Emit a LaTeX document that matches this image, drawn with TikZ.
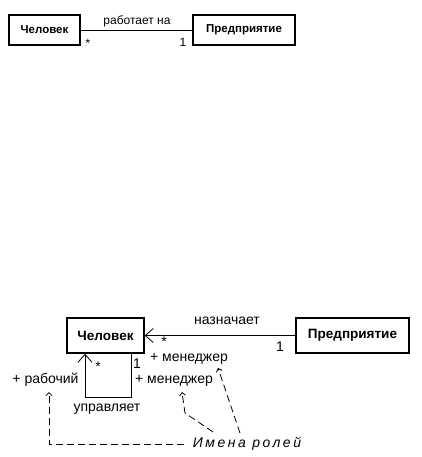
\documentclass[tikz,border=0pt]{standalone}
\usepackage{fontspec}
\setmainfont{Liberation Sans}
\usetikzlibrary{arrows.meta}
\tikzset{
  cls/.style={draw, line width=1.3pt, inner sep=0pt, font=\bfseries\fontsize{13.5}{15}\selectfont},
  clstop/.style={cls, font=\bfseries\fontsize{11.5}{13}\selectfont},
  txt/.style={inner sep=0pt, font=\fontsize{14}{16}\selectfont},
  txttop/.style={inner sep=0pt, font=\fontsize{12}{14}\selectfont},
  assoc/.style={line width=0.8pt},
  openarrow/.style={-{Straight Barb[length=8pt,width=14pt,line width=0.8pt]}},
  note/.style={dashed, dash pattern=on 7pt off 4pt, line width=0.8pt, -{Straight Barb[length=3pt,width=6pt,line width=0.8pt]}}
}
\begin{document}
\begin{tikzpicture}[x=1pt,y=-1pt]
\useasboundingbox (0,0) rectangle (422,457);
% top diagram
\node[clstop, minimum width=71pt, minimum height=30pt] (p1) at (44.5,30) {Человек};
\node[clstop, minimum width=102pt, minimum height=30pt] (e1) at (244,30) {Предприятие};
\draw[assoc] (p1.east) -- (e1.west);
\node[txttop] (l1) at (137,21) {работает на};
\node[txttop] (m1) at (88,43) {*};
\node[txttop] (n1) at (183,42) {1};
% bottom diagram
\node[cls, minimum width=77pt, minimum height=35pt] (p2) at (105.5,335.5) {Человек};
\node[cls, minimum width=113pt, minimum height=35pt] (e2) at (352.5,335.5) {Предприятие};
\draw[assoc, openarrow] (e2.west) -- (p2.east);
\node[txt] (l2) at (227,321) {назначает};
\node[txt] (m2) at (164,342) {*};
\node[txt] (n2) at (280,347) {1};
\node[txt] (r1) at (189,359) {+ менеджер};
% self loop
\coordinate (la) at (85,397);
\coordinate (lb) at (131,397);
\draw[assoc, openarrow] (lb |- p2.south) -- (lb) -- (la) -- (la |- p2.south);
\node[txt] (m3) at (98,367) {*};
\node[txt] (n3) at (137,364) {1};
\node[txt] (r2) at (174,381) {+ менеджер};
\node[txt] (r3) at (45.5,380) {+ рабочий};
\node[txt] (l3) at (107,409) {управляет};
% role names note
\node[txt, font=\itshape\fontsize{14}{16}\selectfont\addfontfeatures{LetterSpace=18}] (roles) at (247,444) {Имена ролей};
\coordinate (d1) at (49,444);
\coordinate (d1e) at (49,392);
\coordinate (d2s) at (213,432);
\coordinate (d2m) at (185,413);
\coordinate (d2e) at (182,392);
\coordinate (d3s) at (240,433);
\coordinate (d3e) at (218,368);
\draw[note, shorten <=9pt] (roles.west) -- (d1) -- (d1e);
\draw[note] (d2s) -- (d2m) -- (d2e);
\draw[note] (d3s) -- (d3e);
\end{tikzpicture}
\end{document}
